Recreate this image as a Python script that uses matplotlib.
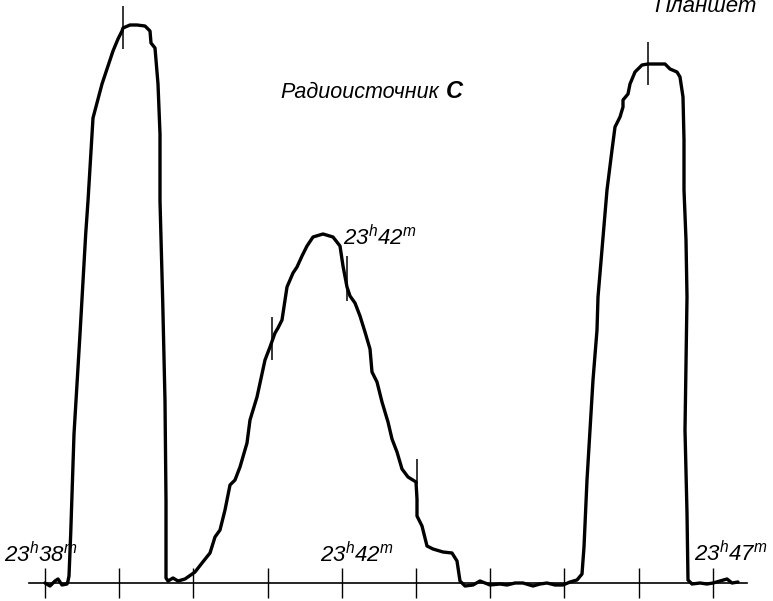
import numpy as np
import matplotlib
matplotlib.use('Agg')
import matplotlib.pyplot as plt

################################################################################
# DATA
# chart record digitised along the paper (x in paper units from the 23h38m
# mark, amplitude in arbitrary units above the zero line)
################################################################################
paper_speed = 74.2          # paper units per minute
tick_minutes = [0, 1, 2, 3, 4, 5, 6, 7, 8, 9]

x_left = [0, 5, 10, 13, 17, 22, 23, 24, 25, 25.7,
          29, 35, 40.7, 43, 47, 48, 57, 68, 73, 77,
          78, 85, 92, 100, 105, 106, 110, 113, 115, 115,
          117.7, 120, 121, 121, 123]
a_left = [0, -3, 2, 4, -2, -1, 2, 7, 32, 49,
          149, 249, 349, 382, 449, 465, 499, 532, 544, 552,
          555, 558, 558, 557, 552, 540, 535, 499, 449, 382,
          282, 182, 82, 5, 2]

x_mid = [128, 133, 140, 150, 157, 165, 170, 175, 180, 185,
         190, 195, 202, 205, 212, 215, 220, 225, 230, 233,
         237, 240, 242, 248, 252, 257, 262, 268, 278, 288,
         295, 298, 302, 305, 310, 315, 320, 325, 327, 332,
         337, 343, 347, 352, 357, 363, 371, 372, 372, 377,
         382, 388, 398, 407, 412, 415, 420, 428, 435]
a_mid = [5, 2, 4, 11, 20, 30, 46, 53, 73, 98,
         103, 116, 140, 163, 186, 200, 223, 236, 250, 255,
         263, 283, 296, 310, 316, 327, 337, 346, 349, 346,
         337, 317, 296, 287, 280, 267, 251, 234, 211, 201,
         181, 161, 144, 131, 114, 106, 101, 84, 67, 57,
         37, 34, 31, 30, 22, 2, -3, -2, 2]

x_right = [445, 455, 462, 470, 478, 488, 495, 502, 510, 518,
           525, 532, 537, 539, 542, 545, 548, 552, 553, 557,
           562, 567, 570, 575, 578, 578, 583, 585, 590, 597,
           603, 620, 625, 632, 635, 638, 639, 639, 641, 642,
           641, 640, 642, 643, 647, 655, 662, 668, 675, 682,
           687, 693]
a_right = [-2, -1, -2, 0, 0, -3, -1, 0, -2, -2,
           1, 3, 9, 36, 103, 153, 203, 253, 286, 333,
           393, 433, 456, 466, 476, 483, 489, 499, 511, 518,
           519, 519, 514, 511, 506, 486, 443, 393, 343, 286,
           220, 153, 70, 3, -1, 0, -1, 0, 2, 4,
           0, 1]

# short time marks drawn across the record
x_marks = [78, 227, 302, 372, 603]
mark_lo = [534, 223, 282, 99, 498]
mark_hi = [577, 266, 327, 124, 541]

################################################################################
# PLOT
################################################################################
plt.rcParams['font.family'] = ['Liberation Sans', 'DejaVu Sans']
plt.rcParams['mathtext.fontset'] = 'custom'
plt.rcParams['mathtext.rm'] = 'Liberation Sans:italic'
plt.rcParams['mathtext.it'] = 'Liberation Sans:italic'

t = np.array(x_left + x_mid + x_right) / paper_speed
a = np.array(a_left + a_mid + a_right)
t_marks = np.array(x_marks) / paper_speed

fig = plt.figure(figsize=(7.73, 6.01), dpi=100)
ax = fig.add_axes([29/773, 0, 718/773, 1])

ax.plot(t, a, color='black', lw=2.4, solid_joinstyle='round',
        solid_capstyle='round', zorder=3)
ax.vlines(t_marks, mark_lo, mark_hi, color='black', lw=1.1, zorder=4)

ax.set_xlim(-16/paper_speed, 702/paper_speed)
ax.set_ylim(-18, 583)
for s in ['top', 'right', 'left']:
    ax.spines[s].set_visible(False)
ax.spines['bottom'].set_position(('data', 0))
ax.spines['bottom'].set_linewidth(1.2)
ax.set_xticks(tick_minutes)
ax.set_xticklabels([])
ax.set_yticks([])
ax.tick_params(axis='x', direction='inout', length=21, width=1.0)
ax.patch.set_alpha(0)

fs = 16
ax.text(3.167, 485, 'Радиоисточник', fontsize=15.5, style='italic')
ax.text(5.40, 485, 'C', fontsize=17, style='italic', fontweight='bold')
ax.text(9.596, 571, 'Планшет', fontsize=fs, style='italic', ha='right',
        clip_on=False)
ax.text(4.016, 338, r'$23^{h}42^{m}$', fontsize=fs)
ax.text(-0.55, 21, r'$23^{h}38^{m}$', fontsize=fs, clip_on=False)
ax.text(3.70, 21, r'$23^{h}42^{m}$', fontsize=fs)
ax.text(8.75, 22, r'$23^{h}47^{m}$', fontsize=fs)

fig.savefig('out.png', dpi=100)
